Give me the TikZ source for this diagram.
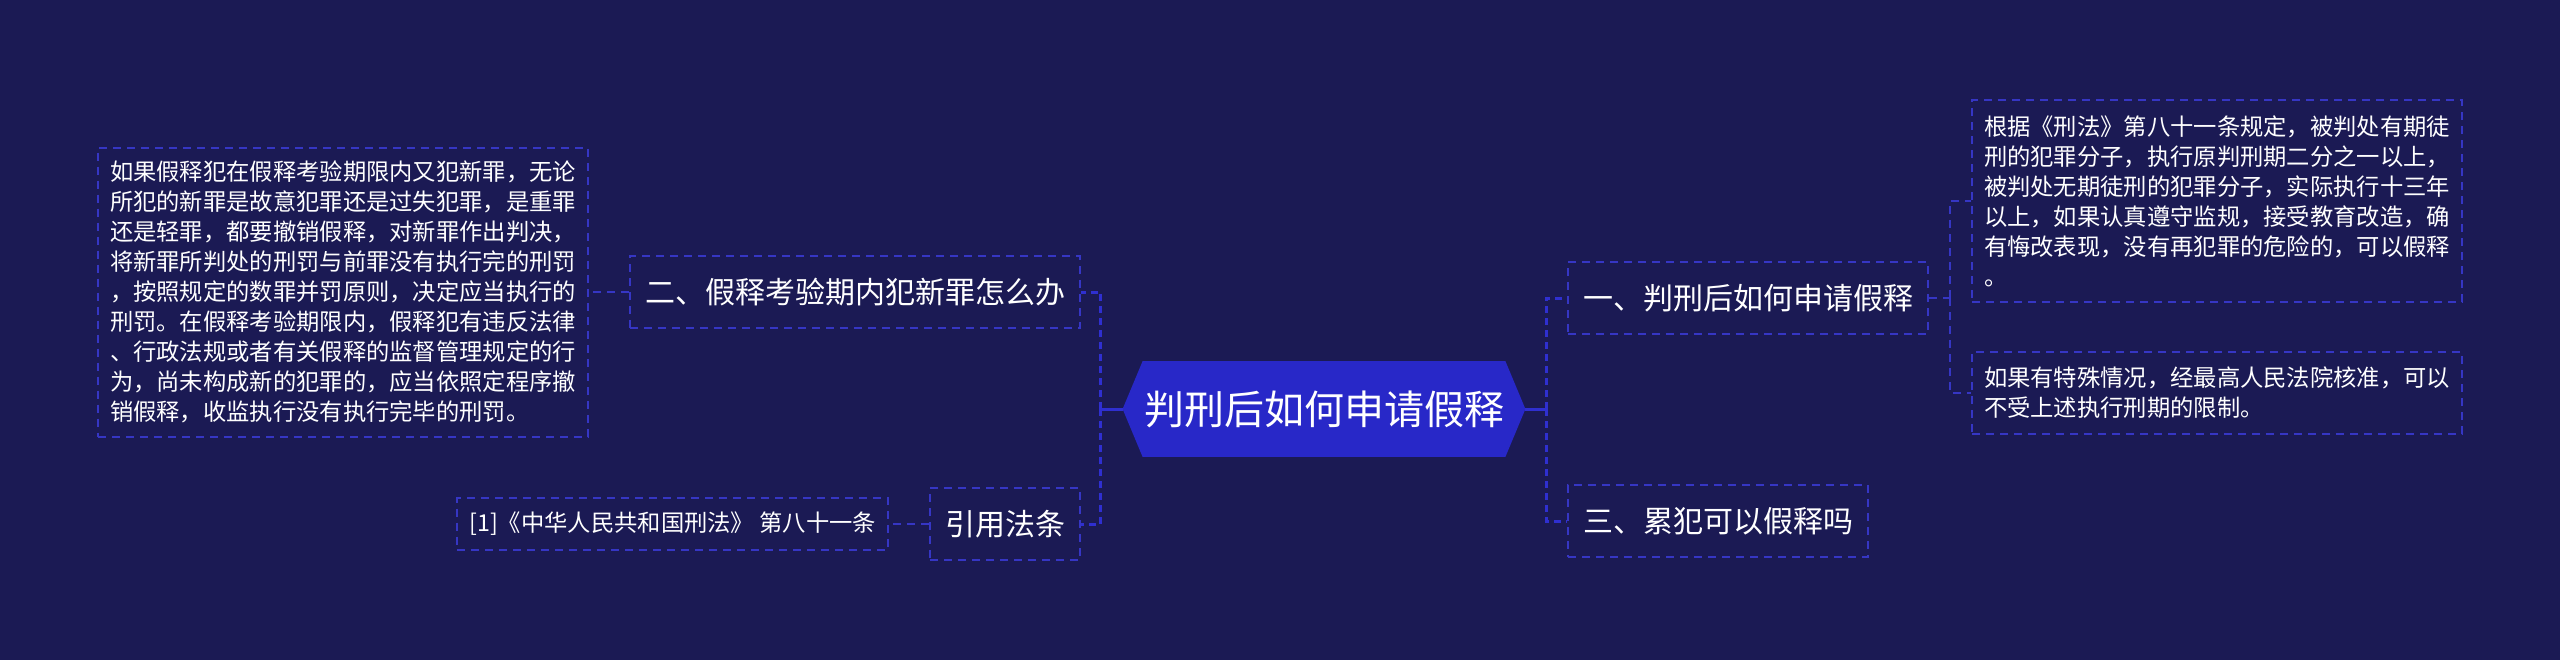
\documentclass[tikz,border=0pt]{standalone}
\usepackage{fontspec}
\usepackage{tikz}
\usetikzlibrary{positioning, calc, backgrounds}
\newfontfamily\cjk{Noto Sans CJK SC}
\definecolor{lfnavy}{HTML}{1B1A54}
\definecolor{lfroyal}{HTML}{2828C8}
\definecolor{lfline}{HTML}{2F2FD0}
\definecolor{lfdash}{HTML}{3636C4}

\tikzset{
  topic/.style={draw=lfdash, line width=1pt, dash pattern=on 4pt off 3pt, text=white,
                font=\cjk\fontsize{15}{18}\selectfont, minimum height=36pt, inner xsep=7.5pt},
  note/.style={draw=lfdash, line width=1pt, dash pattern=on 4pt off 3pt, text=white, align=left,
               font=\cjk\fontsize{11.65}{15}\selectfont, inner xsep=6pt, inner ysep=4pt},
  trunk/.style={draw=lfline, line width=1.5pt},
  branch/.style={draw=lfline, line width=1.5pt, dash pattern=on 3.5pt off 2.5pt},
  twig/.style={draw=lfdash, line width=1pt, dash pattern=on 4pt off 3pt},
}

\begin{document}
\begin{tikzpicture}[x=0.5pt, y=-0.5pt]
          \useasboundingbox (0,0) rectangle (2560,660);
          % centre
          \node[text=white, font=\cjk\fontsize{20}{24}\selectfont, minimum width=201pt, minimum height=47.5pt, inner sep=0pt]
            (root) at (1324,409) {判刑后如何申请假释};
          % left side
          \node[topic, anchor=east] (twoq) at (1081,292) {二、假释考验期内犯新罪怎么办};
          \node[topic, anchor=east] (cite) at (1081,524) {引用法条};
          \node[note, anchor=east, minimum height=144.5pt] (newcrime) at (589,292)
            {如果假释犯在假释考验期限内又犯新罪，无论\\所犯的新罪是故意犯罪还是过失犯罪，是重罪\\还是轻罪，都要撤销假释，对新罪作出判决，\\将新罪所判处的刑罚与前罪没有执行完的刑罚\\，按照规定的数罪并罚原则，决定应当执行的\\刑罚。在假释考验期限内，假释犯有违反法律\\、行政法规或者有关假释的监督管理规定的行\\为，尚未构成新的犯罪的，应当依照定程序撤\\销假释，收监执行没有执行完毕的刑罚。};
          \node[note, anchor=east, minimum height=26pt] (lawref) at (889,524) {[1]《中华人民共和国刑法》 第八十一条};
          % right side
          \node[topic, anchor=west] (oneq) at (1567,298) {一、判刑后如何申请假释};
          \node[topic, anchor=west] (threeq) at (1567,521) {三、累犯可以假释吗};
          \node[note, anchor=west, minimum height=101pt] (term) at (1971,201)
            {根据《刑法》第八十一条规定，被判处有期徒\\刑的犯罪分子，执行原判刑期二分之一以上，\\被判处无期徒刑的犯罪分子，实际执行十三年\\以上，如果认真遵守监规，接受教育改造，确\\有悔改表现，没有再犯罪的危险的，可以假释\\。};
          \node[note, anchor=west, minimum height=41pt] (special) at (1971,393)
            {如果有特殊情况，经最高人民法院核准，可以\\不受上述执行刑期的限制。};
          % connectors
          \draw[trunk] (root.west) -- ++(-22,0) coordinate (lj);
          \draw[trunk] (root.east) -- ++(21,0) coordinate (rj);
          \draw[branch] (lj) |- (twoq.east);
          \draw[branch] (lj) |- (cite.east);
          \draw[branch] (rj) |- (oneq.west);
          \draw[branch] (rj) |- (threeq.west);
          \draw[twig] (twoq.west) -- (newcrime.east);
          \draw[twig] (cite.west) -- (lawref.east);
          \draw[twig] (oneq.east) -- ++(21,0) coordinate (oj);
          \draw[twig] (oj) |- (term.west);
          \draw[twig] (oj) |- (special.west);
          \begin{scope}[on background layer]
            \fill[lfnavy] (0,0) rectangle (2560,660);
            \fill[lfroyal] ([xshift=10pt]root.north west) -- ([xshift=-10pt]root.north east) -- (root.east)
              -- ([xshift=-10pt]root.south east) -- ([xshift=10pt]root.south west) -- (root.west) -- cycle;
          \end{scope}
        \end{tikzpicture}
\end{document}
